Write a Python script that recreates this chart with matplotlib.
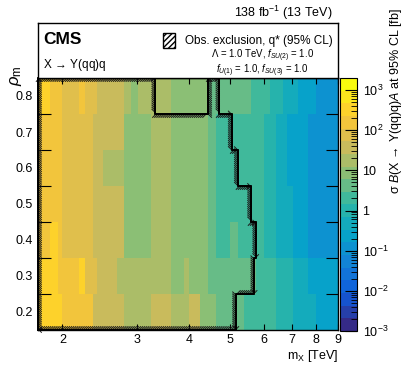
import numpy as np
import matplotlib
matplotlib.use("Agg")
import matplotlib.pyplot as plt
import matplotlib.patheffects as pe
from matplotlib.colors import LinearSegmentedColormap, ListedColormap, LogNorm
from matplotlib.patches import Rectangle
from matplotlib.ticker import NullLocator, FixedLocator

plt.rcParams['font.family'] = ['Liberation Sans', 'DejaVu Sans']
plt.rcParams['mathtext.fontset'] = 'custom'
plt.rcParams['mathtext.rm'] = 'Liberation Sans'
plt.rcParams['mathtext.it'] = 'Liberation Sans:italic'
plt.rcParams['mathtext.bf'] = 'Liberation Sans:bold'

# ---- data ----
# mass bin edges [TeV]
mass_edges = [1.75, 1.87, 1.95, 2.00, 2.19, 2.26, 2.36, 2.41, 2.50, 2.55, 2.70,
              2.80, 2.91, 3.02, 3.25, 3.62, 3.88, 4.00, 4.23, 4.42, 4.63, 5.00,
              5.20, 5.40, 5.60, 5.75, 6.02, 6.20, 6.42, 6.66, 6.80, 7.03, 7.22,
              7.63, 7.98, 8.28, 9.00]
rho_points = [0.2, 0.3, 0.4, 0.5, 0.6, 0.7, 0.8]

# 95% CL upper limits [fb], one list per rho row
limit_rho02 = [330, 330, 330, 160, 160, 160, 37, 37, 37, 37, 30, 18, 18, 18, 37, 18, 18, 30,
               10, 6.5, 4.2, 4.2, 4.2, 2.2, 2.2, 2.2, 1.6, 1.6, 0.95, 0.95, 0.95, 0.45, 0.45,
               0.45, 0.22, 0.22]
limit_rho03 = [330, 330, 160, 160, 330, 75, 75, 37, 37, 37, 18, 18, 18, 18, 18, 10, 18, 10,
               6.5, 4.2, 4.2, 4.2, 4.2, 4.2, 4.2, 2.2, 1.6, 1.6, 0.95, 0.95, 0.95, 0.45, 0.45,
               0.22, 0.22, 0.22]
limit_rho04 = [160, 330, 160, 75, 75, 75, 37, 37, 37, 37, 30, 10, 10, 10, 18, 10, 10, 10,
               6.5, 4.2, 1.6, 4.2, 2.2, 2.2, 2.2, 1.6, 0.95, 0.95, 0.45, 0.45, 0.45, 0.22, 0.22,
               0.11, 0.11, 0.11]
limit_rho05 = [160, 160, 160, 75, 75, 75, 37, 37, 37, 37, 30, 10, 10, 10, 18, 10, 10, 10,
               6.5, 4.2, 1.6, 1.6, 2.2, 2.2, 1.6, 1.6, 0.95, 0.95, 0.45, 0.45, 0.45, 0.22, 0.22,
               0.11, 0.11, 0.11]
limit_rho06 = [160, 160, 160, 75, 75, 75, 37, 37, 18, 18, 18, 10, 10, 10, 18, 10, 10, 10,
               6.5, 4.2, 1.6, 1.6, 2.2, 1.6, 1.6, 1.6, 0.95, 0.95, 0.45, 0.45, 0.22, 0.22, 0.22,
               0.11, 0.11, 0.11]
limit_rho07 = [160, 160, 160, 75, 75, 75, 37, 37, 37, 30, 30, 10, 10, 10, 18, 10, 10, 10,
               6.5, 4.2, 1.6, 2.2, 2.2, 1.6, 1.6, 1.6, 0.95, 0.95, 0.45, 0.45, 0.22, 0.22, 0.22,
               0.11, 0.11, 0.11]
limit_rho08 = [330, 160, 160, 75, 160, 75, 75, 37, 37, 37, 30, 18, 10, 18, 18, 10, 10, 10,
               6.5, 4.2, 4.2, 4.2, 4.2, 4.2, 2.2, 2.2, 2.2, 0.95, 0.95, 0.45, 0.45, 0.45, 0.22,
               0.22, 0.11, 0.11]

# observed exclusion contour (excluded region on the low mass side)
excl_mass = [1.75, 5.16, 5.16, 5.70, 5.70, 5.76, 5.76, 5.60, 5.60, 5.21, 5.21, 5.04, 5.04,
             4.71, 4.71, 4.43, 4.43, 3.32, 3.32, 1.75, 1.75]
excl_rho = [0.15, 0.15, 0.25, 0.25, 0.35, 0.35, 0.45, 0.45, 0.55, 0.55, 0.65, 0.65, 0.75,
            0.75, 0.85, 0.85, 0.75, 0.75, 0.85, 0.85, 0.15]

x_ticks = [2, 3, 4, 5, 6, 7, 8, 9]
z_min, z_max = 1e-3, 2e3

# ---- ROOT kBird palette, 20 contour levels ----
bird_stops = [0.0, 0.125, 0.25, 0.375, 0.5, 0.625, 0.75, 0.875, 1.0]
bird_rgb = [(0.2082, 0.1664, 0.5293), (0.0592, 0.3599, 0.8684), (0.0780, 0.5041, 0.8385),
            (0.0232, 0.6419, 0.7914), (0.1802, 0.7178, 0.6425), (0.5301, 0.7492, 0.4662),
            (0.8186, 0.7328, 0.3499), (0.9956, 0.7862, 0.1968), (0.9764, 0.9832, 0.0539)]
bird = LinearSegmentedColormap.from_list("bird", list(zip(bird_stops, bird_rgb)))
cmap = ListedColormap([bird(k / 19) for k in range(20)])

W, H = 407, 370
fig = plt.figure(figsize=(W / 100, H / 100), dpi=100)


def fx(px):
    return px / W


def fy(py):
    return 1 - py / H


ax = fig.add_axes([fx(38), fy(330), 300 / W, 252 / H])

rho_arr = np.array(rho_points)
rho_edges = np.append(rho_arr - 0.05, rho_arr[-1] + 0.05)
Z = np.array([limit_rho02, limit_rho03, limit_rho04, limit_rho05,
              limit_rho06, limit_rho07, limit_rho08])
mesh = ax.pcolormesh(mass_edges, rho_edges, Z, cmap=cmap,
                     norm=LogNorm(vmin=z_min, vmax=z_max), shading='flat')

# exclusion line with hatching on the excluded side
ax.plot(excl_mass, excl_rho, color='black', lw=1.3, clip_on=False, zorder=5,
        path_effects=[pe.withTickedStroke(angle=45, spacing=1.5, length=2.3, linewidth=0.7,
                                           foreground='#1a1a1a'),
                      pe.Normal()])

ax.set_xscale('log')
ax.set_xlim(1.75, 9.0)
ax.set_ylim(0.15, 0.85)
ax.xaxis.set_major_locator(FixedLocator(x_ticks))
ax.xaxis.set_minor_locator(NullLocator())
ax.set_xticklabels([str(t) for t in x_ticks])
ax.tick_params(axis='x', which='major', direction='in', top=True, length=4, width=0.8,
               labelsize=9, pad=3)
ax.set_yticks(rho_points)
ax.set_yticklabels(["%.1f" % r for r in rho_points])
ax.yaxis.set_minor_locator(FixedLocator(list(rho_edges[1:-1])))
ax.tick_params(axis='y', which='major', length=0, labelsize=9, pad=4)
ax.tick_params(axis='y', which='minor', direction='in', right=True, left=True, length=9,
               width=0.8)
for s in ax.spines.values():
    s.set_linewidth(1.0)

# colour bar
cax = fig.add_axes([fx(340), fy(331), 17 / W, 253 / H])
cb = fig.colorbar(mesh, cax=cax)
cb.set_ticks([1e-3, 1e-2, 1e-1, 1, 10, 1e2, 1e3])
cb.set_ticklabels([r"10$^{-3}$", r"10$^{-2}$", r"10$^{-1}$", "1", "10", r"10$^{2}$", r"10$^{3}$"])
cb.minorticks_on()
cax.tick_params(which='major', direction='in', length=9, width=0.8, labelsize=9, pad=4)
cax.tick_params(which='minor', direction='in', length=4, width=0.6)
cb.outline.set_linewidth(0.8)
fig.text(fx(396), fy(8),
         r"σ $\mathit{B}$(X $\!\rightarrow\!$ Y(qq)q)$\mathit{A}$ at 95% CL [fb]",
         rotation=90, ha='center', va='top', fontsize=9)

# legend box above the map
lax = fig.add_axes([fx(38), fy(78), 300 / W, 55 / H])
lax.set_xticks([])
lax.set_yticks([])
for s in lax.spines.values():
    s.set_linewidth(1.0)

fig.text(fx(43), fy(40), "CMS", fontweight='bold', fontsize=12.5, va='center')
fig.text(fx(43), fy(65), r"X $\!\rightarrow\!$ Y(qq)q", fontsize=8.5, va='center')
fig.add_artist(Rectangle((fx(163), fy(48)), 12 / W, 15 / H, transform=fig.transFigure,
                         facecolor='white', edgecolor='black', hatch='//////', lw=1.0))
fig.text(fx(185), fy(41), "Obs. exclusion, q* (95% CL)", fontsize=8.5, va='center')
fig.text(fx(263), fy(55.5), r"$\mathit{\Lambda}$ = 1.0 TeV, $f_{SU(2)}$ = 1.0", ha='center',
         va='center', fontsize=6.9)
fig.text(fx(262), fy(70.5), r"$f_{U(1)}$ = 1.0, $f_{SU(3)}$ = 1.0", ha='center',
         va='center', fontsize=6.9)

fig.text(fx(333), fy(13), r"138 fb$^{-1}$ (13 TeV)", ha='right', va='center', fontsize=9)
fig.text(fx(16), fy(76), r"$\rho_{\mathrm{m}}$", rotation=90, ha='center', va='center',
         fontsize=12)
fig.text(fx(338), fy(356), r"m$_{\mathrm{X}}$ [TeV]", ha='right', va='center', fontsize=9)

fig.savefig("out.png", dpi=100)
